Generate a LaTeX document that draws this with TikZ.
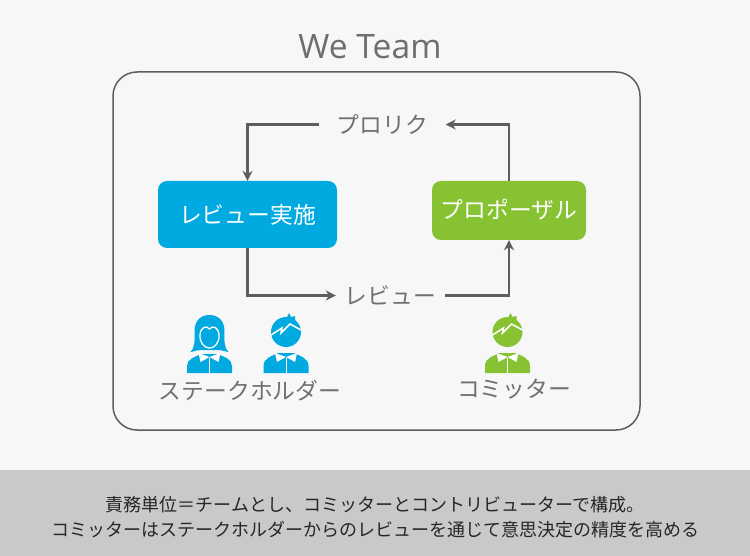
\documentclass[tikz,border=0pt]{standalone}
\usepackage{fontspec}
\setmainfont{Open Sans}
\newfontfamily\jpfont{Noto Sans CJK JP}
\usetikzlibrary{arrows.meta,positioning}
\definecolor{paper}{HTML}{F7F7F7}
\definecolor{band}{HTML}{C9C9C9}
\definecolor{wire}{HTML}{5E5E5E}
\definecolor{label}{HTML}{707070}
\definecolor{bluebox}{HTML}{00A9E0}
\definecolor{greenbox}{HTML}{86C232}
\tikzset{
    action/.style={
           rounded corners=9pt,
           text=white,
           inner sep=0pt,
           font=\jpfont\fontsize{22.8}{24}\selectfont
           },
    tag/.style={
           text=label,
           inner sep=0pt,
           font=\jpfont\fontsize{22.8}{24}\selectfont
           },
    flow/.style={
           draw=wire,
           line width=2.1pt,
           -{Stealth[length=10pt,width=10pt]}
           },
    man/.pic={
           % body and head
           \path[pic actions] (-22.5,0) -- (-22.5,-7) .. controls (-22.5,-15) and (-14,-17) .. (-8,-20)
               -- (8,-20) .. controls (14,-17) and (22.5,-15) .. (22.5,-7) -- (22.5,0) -- cycle;
           \path[pic actions] (0,-41) circle (15);
           \path[pic actions] (0,-54) -- (3,-60) -- (5,-56) -- (9,-57) -- (9,-51) -- cycle;
           % hair line, collar
           \draw[white,line width=1.5pt] (-15,-38) -- (-4,-45) -- (-5,-40) -- (4,-49) -- (15,-43);
           \draw[white,line width=1pt] (0,-15) -- (0,0);
           \fill[white] (0,-16) -- (-11,-20) -- (-9,-11) -- cycle (0,-16) -- (11,-20) -- (9,-11) -- cycle;
           },
    woman/.pic={
           % hair, face and body
           \path[pic actions] (-8,-23) .. controls (-13,-23) and (-17,-21) .. (-19,-21)
               .. controls (-14,-27) and (-15,-32) .. (-15,-42)
               .. controls (-15,-53) and (-8,-58) .. (0,-58)
               .. controls (8,-58) and (15,-53) .. (15,-42)
               .. controls (15,-32) and (14,-27) .. (19,-21)
               .. controls (17,-21) and (13,-23) .. (8,-23) -- cycle;
           \path[pic actions,draw=white,line width=1.3pt] (0,-44) .. controls (-3,-48) and (-9,-46) .. (-9.5,-38)
               .. controls (-10,-30) and (-5,-25) .. (0,-25)
               .. controls (5,-25) and (10,-30) .. (9.5,-38)
               .. controls (9,-46) and (3,-48) .. (0,-44) -- cycle;
           \path[pic actions] (-22.5,0) -- (-22.5,-7) .. controls (-22.5,-14) and (-15,-16) .. (-8,-19)
               -- (8,-19) .. controls (15,-16) and (22.5,-14) .. (22.5,-7) -- (22.5,0) -- cycle;
           \draw[white,line width=1pt] (0,-15) -- (0,0);
           \fill[white] (0,-16) -- (-11,-20) -- (-9,-11) -- cycle (0,-16) -- (11,-20) -- (9,-11) -- cycle;
           }
}
\begin{document}
\begin{tikzpicture}[x=1pt,y=-1pt]
   \useasboundingbox (0,0) rectangle (750,556);
   \fill[paper] (0,0) rectangle (750,556);
   \fill[band] (0,470) rectangle (750,556);

   \node[text=wire!90,inner sep=0pt,font=\fontsize{33.6}{36}\selectfont] (title) at (370,47) {We Team};
   \node[draw=wire,line width=1.5pt,rounded corners=24pt,minimum width=527pt,minimum height=358pt,inner sep=0pt] (team) at (376.5,251) {};

   \node[action,fill=bluebox,minimum width=179pt,minimum height=67pt] (jisshi) at (247.5,214.5) {\raisebox{1pt}{レビュー実施}};
   \node[action,fill=greenbox,minimum width=154pt,minimum height=59pt] (proposal) at (509,210.5) {\raisebox{2.5pt}{プロポーザル}};
   \node[tag,minimum width=126pt,minimum height=24pt] (prolik) at (382.5,124.5) {プロリク};
   \node[tag,minimum width=109pt,minimum height=24pt] (review) at (390.5,295.5) {レビュー};

   \path[flow] (prolik.west) -| (jisshi.north);
   \path[flow] (proposal.north) |- (prolik.east);
   \path[flow] (jisshi.south) |- (review.west);
   \path[flow] (review.east) -| (proposal.south);

   \pic[fill=bluebox] (holder1) at (209.5,373) {woman};
   \pic[fill=bluebox] (holder2) at (286,373) {man};
   \pic[fill=greenbox] (committer) at (507.5,373) {man};

   \node[tag] (holders) at (250,391) {ステークホルダー};
   \node[tag] (committers) at (514,389) {コミッター};

   \node[inner sep=0pt,align=center,text=black!85,font=\jpfont\fontsize{18}{25}\selectfont] (summary) at (375,517)
       {責務単位＝チームとし、コミッターとコントリビューターで構成。\\
        コミッターはステークホルダーからのレビューを通じて意思決定の精度を高める};
\end{tikzpicture}
\end{document}
